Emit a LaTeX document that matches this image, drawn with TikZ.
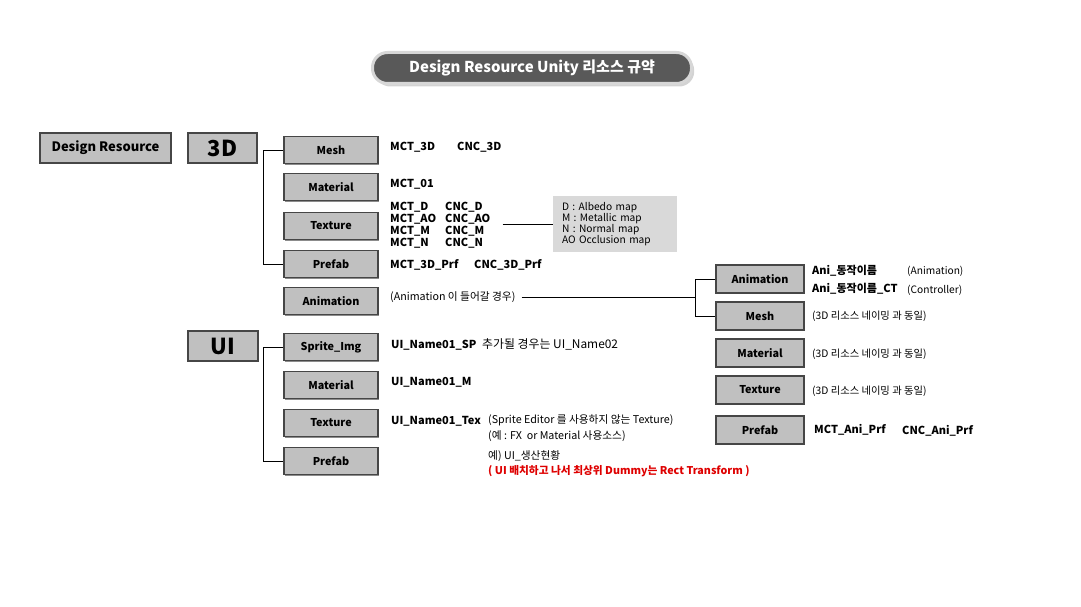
\documentclass[tikz,border=0pt]{standalone}
\usepackage{fontspec}
\setmainfont{Noto Sans CJK KR}
\usetikzlibrary{shadows}
\definecolor{boxgray}{RGB}{192,192,192}
\definecolor{edgegray}{RGB}{70,70,70}
\definecolor{notegray}{RGB}{217,217,217}
\definecolor{titlegray}{RGB}{89,89,89}
\definecolor{rimgray}{RGB}{215,215,215}
\definecolor{warnred}{RGB}{222,0,0}
\newcommand{\fs}[1]{\fontsize{#1}{#1}\selectfont}
\newcommand{\pair}[2]{\makebox[55pt][l]{#1}#2}

\begin{document}
\begin{tikzpicture}[x=1pt,y=-1pt,every node/.style={inner sep=0pt},
    box/.style={draw=edgegray,fill=boxgray,line width=1.2pt,minimum width=94pt,minimum height=27pt,
      font=\fs{10.8}\bfseries,drop shadow={shadow xshift=1pt,shadow yshift=-1pt,fill=black!45,opacity=1}},
    rbox/.style={box,minimum width=88pt,minimum height=28pt},
    topbox/.style={box,minimum height=30pt},
    title/.style={draw=rimgray,line width=3pt,fill=titlegray,rounded corners=15pt,minimum width=319pt,
      minimum height=31pt,text=white,font=\fs{15}\bfseries,drop shadow={shadow yshift=-3pt,opacity=.35}},
    lbl/.style={anchor=west,font=\fs{11}\bfseries},
    cmt/.style={anchor=west,font=\fs{10.7}},
    wire/.style={line width=1pt}]
  \useasboundingbox (0,0) rectangle (1081,607);
  \node[title] (title) at (532,68) {Design Resource Unity 리소스 규약};

  \node[topbox,minimum width=131pt,font=\fs{13}\bfseries] (design) at (105.5,148) {Design Resource};
  \node[topbox,minimum width=69pt,font=\fs{22}\bfseries] (3d) at (222.5,148) {3D};
  \node[topbox,minimum width=70pt,font=\fs{22}\bfseries] (ui) at (223,346) {UI};

  \node[box] (mesh-3d) at (331,150) {Mesh};
  \node[box] (mat-3d)  at (331,187) {Material};
  \node[box] (tex-3d)  at (331,226) {Texture};
  \node[box] (prf-3d)  at (331,264) {Prefab};
  \node[box] (ani-3d)  at (331,301) {Animation};

  \node[box] (spr-ui)  at (331,347) {Sprite\_Img};
  \node[box] (mat-ui)  at (331,385) {Material};
  \node[box] (tex-ui)  at (331,423) {Texture};
  \node[box] (prf-ui)  at (331,461) {Prefab};

  \node[rbox] (ani-r)  at (760,279) {Animation};
  \node[rbox] (mesh-r) at (760,316) {Mesh};
  \node[rbox] (mat-r)  at (760,353) {Material};
  \node[rbox] (tex-r)  at (760,390) {Texture};
  \node[rbox] (prf-r)  at (760,430) {Prefab};

  \node[lbl] (mesh-3d-a) at (390,147) {MCT\_3D};
  \node[lbl] (mesh-3d-b) at (457,147) {CNC\_3D};
  \node[lbl] (mat-3d-a)  at (390,184) {MCT\_01};
  \node[lbl,align=left,font=\fontsize{11}{12}\selectfont\bfseries] (tex-3d-a) at (390,225)
    {\pair{MCT\_D}{CNC\_D}\\\pair{MCT\_AO}{CNC\_AO}\\\pair{MCT\_M}{CNC\_M}\\\pair{MCT\_N}{CNC\_N}};
  \node[fill=notegray,minimum width=124pt,minimum height=56pt,text width=106pt,align=left,
    font=\fontsize{10.2}{11}\selectfont] (note) at (615,224)
    {D : Albedo map\\M : Metallic map\\N : Normal map\\AO Occlusion map};
  \node[lbl] (prf-3d-a) at (390,265) {MCT\_3D\_Prf};
  \node[lbl] (prf-3d-b) at (474,265) {CNC\_3D\_Prf};
  \node[cmt] (ani-3d-a) at (390,297) {(Animation 이 들어갈 경우)};
  \coordinate (ani-join) at (696,297);

  \node[lbl] (ani-r-a)  at (812,271) {Ani\_동작이름};
  \node[cmt,font=\fs{10.2}] (ani-r-b)  at (907,271) {(Animation)};
  \node[lbl] (ani-r-c)  at (812,289) {Ani\_동작이름\_CT};
  \node[cmt,font=\fs{10.2}] (ani-r-d)  at (907,290) {(Controller)};
  \node[cmt,font=\fs{10.3}] (mesh-r-a) at (812,316) {(3D 리소스 네이밍 과 동일)};
  \node[cmt,font=\fs{10.3}] (mat-r-a)  at (812,354) {(3D 리소스 네이밍 과 동일)};
  \node[cmt,font=\fs{10.3}] (tex-r-a)  at (812,391) {(3D 리소스 네이밍 과 동일)};
  \node[lbl] (prf-r-a)  at (814,430) {MCT\_Ani\_Prf};
  \node[lbl] (prf-r-b)  at (902,431) {CNC\_Ani\_Prf};

  \node[lbl] (spr-ui-a) at (391,345) {UI\_Name01\_SP};
  \node[cmt,font=\fs{11.9}] (spr-ui-b) at (482,344) {추가될 경우는 UI\_Name02};
  \node[lbl] (mat-ui-a) at (391,382) {UI\_Name01\_M};
  \node[lbl] (tex-ui-a) at (391,421) {UI\_Name01\_Tex};
  \node[cmt] (tex-ui-b) at (488,420) {(Sprite Editor 를 사용하지 않는 Texture)};
  \node[cmt] (tex-ui-c) at (488,436) {(예 : FX~~or Material 사용소스)};
  \node[cmt] (prf-ui-a) at (488,456) {예) UI\_생산현황};
  \node[cmt,font=\fs{10.7}\bfseries,text=warnred] (prf-ui-b) at (488,471)
    {( UI 배치하고 나서 최상위 Dummy는 Rect Transform )};

  \draw[wire] (mesh-3d.west) -- ++(-20,0) |- (prf-3d.west);
  \draw[wire] (spr-ui.west) -- ++(-20,0) |- (prf-ui.west);
  \draw[wire] (ani-r.west) -- ++(-20,0) |- (mesh-r.west);
  \draw[wire] ([xshift=12pt]tex-3d-a.east |- note.west) -- (note.west);
  \draw[wire] ([xshift=6pt]ani-3d-a.east |- ani-join) -- (ani-join);
\end{tikzpicture}
\end{document}
